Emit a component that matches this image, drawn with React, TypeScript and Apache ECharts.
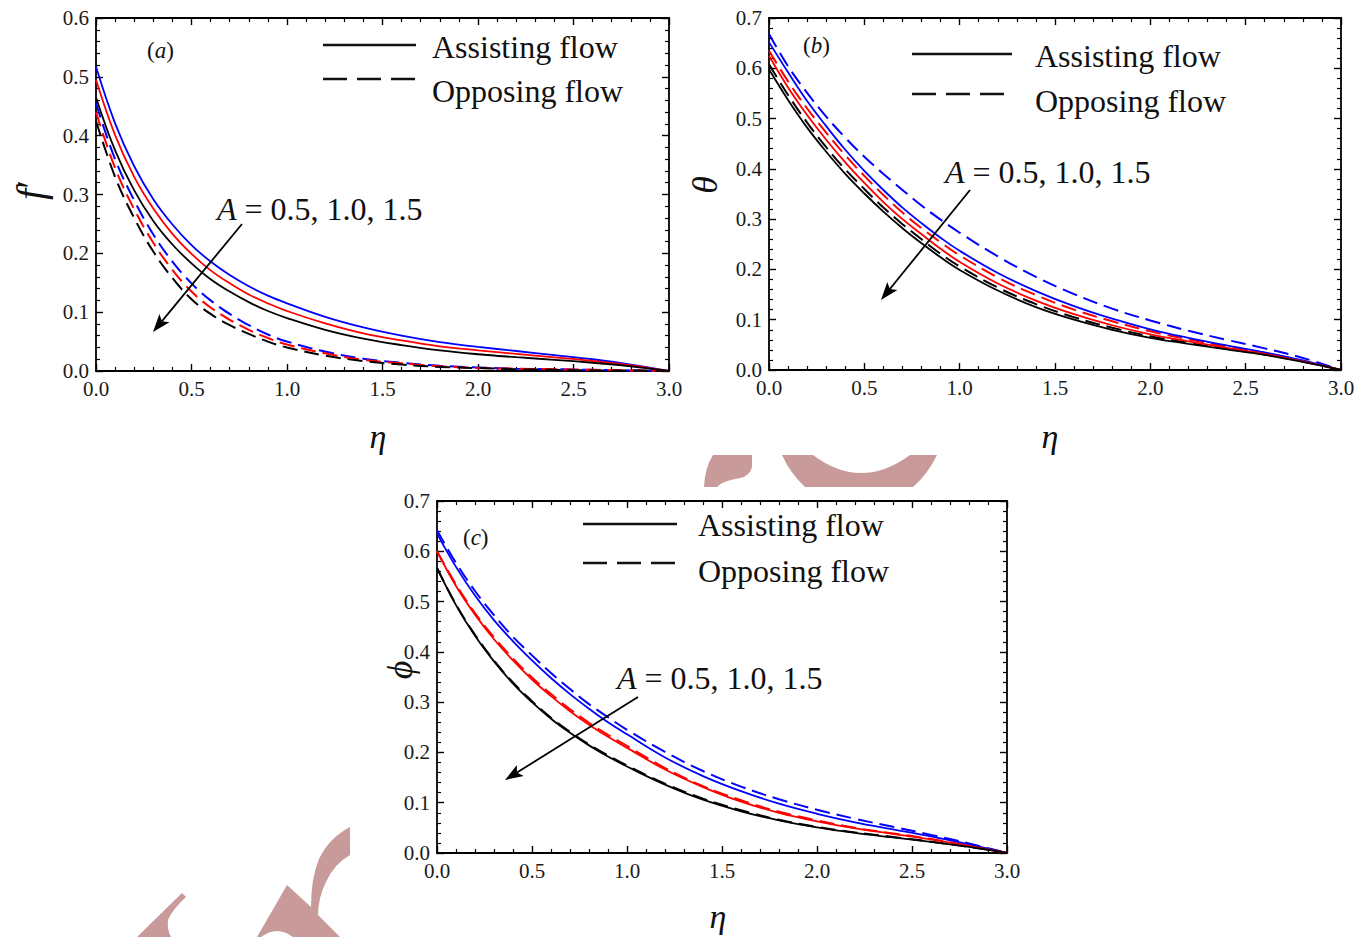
import React, { useEffect, useRef } from "react";
import * as echarts from "echarts";

const FONT = "Liberation Serif";

const eta = [0, 0.1, 0.2, 0.3, 0.4, 0.5, 0.6, 0.7, 0.8, 0.9, 1.0, 1.2, 1.4, 1.6, 1.8, 2.0, 2.2, 2.4, 2.6, 2.8, 3.0];
const xTickLabels = ["0.0", "0.5", "1.0", "1.5", "2.0", "2.5", "3.0"];
const aValues = ["0.5", "1.0", "1.5"];

// Panel (a): f'
const fAssistBlue = [0.517, 0.421, 0.348, 0.292, 0.249, 0.214, 0.186, 0.163, 0.144, 0.128, 0.115, 0.092, 0.074, 0.06, 0.049, 0.041, 0.034, 0.027, 0.02, 0.011, 0];
const fAssistRed = [0.495, 0.401, 0.33, 0.276, 0.233, 0.199, 0.171, 0.149, 0.13, 0.115, 0.102, 0.081, 0.064, 0.052, 0.042, 0.035, 0.029, 0.023, 0.017, 0.0095, 0];
const fAssistBlack = [0.465, 0.375, 0.307, 0.255, 0.215, 0.183, 0.156, 0.135, 0.117, 0.102, 0.09, 0.07, 0.055, 0.044, 0.035, 0.0285, 0.0235, 0.019, 0.014, 0.008, 0];
const fOpposeBlue = [0.455, 0.36, 0.29, 0.232, 0.186, 0.149, 0.12, 0.097, 0.078, 0.062, 0.05, 0.033, 0.021, 0.014, 0.009, 0.006, 0.004, 0.003, 0.002, 0.001, 0];
const fOpposeRed = [0.44, 0.345, 0.275, 0.218, 0.172, 0.135, 0.108, 0.087, 0.07, 0.056, 0.045, 0.03, 0.019, 0.013, 0.008, 0.005, 0.004, 0.003, 0.002, 0.001, 0];
const fOpposeBlack = [0.425, 0.33, 0.26, 0.203, 0.158, 0.122, 0.097, 0.078, 0.063, 0.05, 0.04, 0.026, 0.017, 0.011, 0.007, 0.005, 0.003, 0.002, 0.001, 0.001, 0];

// Panel (b): theta
const tAssistBlue = [0.652, 0.592, 0.535, 0.485, 0.438, 0.396, 0.358, 0.323, 0.292, 0.263, 0.237, 0.193, 0.157, 0.127, 0.102, 0.081, 0.064, 0.049, 0.035, 0.019, 0];
const tAssistRed = [0.625, 0.562, 0.507, 0.458, 0.413, 0.372, 0.334, 0.3, 0.27, 0.241, 0.215, 0.172, 0.138, 0.111, 0.089, 0.071, 0.057, 0.044, 0.032, 0.017, 0];
const tAssistBlack = [0.598, 0.537, 0.482, 0.434, 0.39, 0.351, 0.315, 0.282, 0.252, 0.224, 0.199, 0.158, 0.125, 0.1, 0.08, 0.064, 0.052, 0.041, 0.03, 0.016, 0];
const tOpposeBlue = [0.668, 0.604, 0.551, 0.504, 0.462, 0.424, 0.39, 0.358, 0.327, 0.299, 0.273, 0.226, 0.185, 0.151, 0.122, 0.0985, 0.078, 0.06, 0.043, 0.024, 0];
const tOpposeRed = [0.635, 0.574, 0.52, 0.472, 0.427, 0.386, 0.348, 0.313, 0.282, 0.254, 0.228, 0.184, 0.149, 0.12, 0.097, 0.077, 0.061, 0.047, 0.034, 0.018, 0];
const tOpposeBlack = [0.608, 0.547, 0.492, 0.443, 0.399, 0.36, 0.323, 0.29, 0.26, 0.231, 0.206, 0.164, 0.131, 0.105, 0.084, 0.067, 0.054, 0.042, 0.031, 0.017, 0];

// Panel (c): phi
const pAssistBlue = [0.635, 0.569, 0.512, 0.463, 0.421, 0.383, 0.348, 0.316, 0.287, 0.26, 0.236, 0.19, 0.153, 0.123, 0.098, 0.078, 0.061, 0.047, 0.033, 0.017, 0];
const pAssistRed = [0.6, 0.531, 0.474, 0.425, 0.383, 0.345, 0.312, 0.282, 0.255, 0.231, 0.209, 0.166, 0.131, 0.102, 0.08, 0.063, 0.049, 0.038, 0.027, 0.014, 0];
const pAssistBlack = [0.567, 0.493, 0.432, 0.381, 0.337, 0.3, 0.267, 0.239, 0.214, 0.192, 0.172, 0.136, 0.106, 0.083, 0.065, 0.051, 0.04, 0.031, 0.022, 0.012, 0];
const pOpposeBlue = [0.642, 0.577, 0.521, 0.473, 0.43, 0.393, 0.358, 0.326, 0.296, 0.27, 0.245, 0.201, 0.163, 0.132, 0.107, 0.086, 0.068, 0.052, 0.036, 0.019, 0];
const pOpposeRed = [0.6, 0.534, 0.477, 0.429, 0.387, 0.349, 0.316, 0.286, 0.259, 0.235, 0.213, 0.169, 0.133, 0.105, 0.082, 0.065, 0.05, 0.039, 0.028, 0.0145, 0];
const pOpposeBlack = [0.567, 0.494, 0.434, 0.383, 0.339, 0.302, 0.269, 0.241, 0.216, 0.194, 0.174, 0.138, 0.108, 0.085, 0.066, 0.052, 0.041, 0.032, 0.0225, 0.0122, 0];

const BLUE = "#0000ff";
const RED = "#ff0000";
const BLACK = "#000000";
const WM = "#c99a9a";

const grids = [
  { left: 96, top: 18, width: 573, height: 353 },
  { left: 769, top: 18, width: 572, height: 352 },
  { left: 437, top: 501, width: 570, height: 352 },
];
const yMax = [0.6, 0.7, 0.7];

const panels = [
  { a: [fAssistBlue, fAssistRed, fAssistBlack], o: [fOpposeBlue, fOpposeRed, fOpposeBlack] },
  { a: [tAssistBlue, tAssistRed, tAssistBlack], o: [tOpposeBlue, tOpposeRed, tOpposeBlack] },
  { a: [pAssistBlue, pAssistRed, pAssistBlack], o: [pOpposeBlue, pOpposeRed, pOpposeBlack] },
];

function xAx(gridIndex: number, position: string, showLabel: boolean) {
  return {
    type: "value",
    gridIndex,
    position,
    min: 0,
    max: 3,
    interval: 0.5,
    axisLine: { show: true, onZero: false, lineStyle: { color: "#000", width: 1.8 } },
    axisTick: { show: true, inside: true, length: 7, lineStyle: { color: "#000", width: 1.4 } },
    minorTick: { show: true, splitNumber: 5, length: 4, lineStyle: { color: "#000", width: 1.2 } },
    splitLine: { show: false },
    minorSplitLine: { show: false },
    axisLabel: {
      show: showLabel,
      formatter: (v: number) => xTickLabels[Math.round(v * 2)] ?? v.toFixed(1),
      fontFamily: FONT,
      fontSize: 21,
      color: "#1a1a1a",
      margin: 7,
      showMinLabel: true,
      showMaxLabel: true,
    },
  };
}

function yAx(gridIndex: number, position: string, showLabel: boolean, max: number) {
  return {
    type: "value",
    gridIndex,
    position,
    min: 0,
    max,
    interval: 0.1,
    axisLine: { show: true, onZero: false, lineStyle: { color: "#000", width: 1.8 } },
    axisTick: { show: true, inside: true, length: 7, lineStyle: { color: "#000", width: 1.4 } },
    minorTick: { show: true, splitNumber: 5, length: 4, lineStyle: { color: "#000", width: 1.2 } },
    splitLine: { show: false },
    minorSplitLine: { show: false },
    axisLabel: {
      show: showLabel,
      formatter: (v: number) => v.toFixed(1),
      fontFamily: FONT,
      fontSize: 21,
      color: "#1a1a1a",
      margin: 7,
      showMinLabel: true,
      showMaxLabel: true,
    },
  };
}

function arrow(x1: number, y1: number, x2: number, y2: number) {
  const dx = x2 - x1;
  const dy = y2 - y1;
  const L = Math.sqrt(dx * dx + dy * dy);
  const ux = dx / L;
  const uy = dy / L;
  const hl = 18;
  const hw = 6.5;
  const bx = x2 - ux * hl;
  const by = y2 - uy * hl;
  return [
    { type: "line", shape: { x1, y1, x2: x2 - ux * 8, y2: y2 - uy * 8 }, style: { stroke: "#000", lineWidth: 1.8 }, z: 10 },
    {
      type: "polygon",
      shape: {
        points: [
          [x2, y2],
          [bx - uy * hw, by + ux * hw],
          [bx + ux * 4, by + uy * 4],
          [bx + uy * hw, by - ux * hw],
        ],
      },
      style: { fill: "#000" },
      z: 10,
    },
  ];
}

function txt(x: number, y: number, text: string, size: number, extra: any = {}) {
  return {
    type: "text",
    x,
    y,
    z: 10,
    style: {
      text,
      fontFamily: FONT,
      fontSize: size,
      fill: "#111",
      align: "left",
      verticalAlign: "middle",
      rich: {
        i: { fontFamily: FONT, fontSize: size, fontStyle: "italic", fill: "#111" },
      },
      ...extra,
    },
  };
}

function legend(x1: number, x2: number, ySolid: number, yDash: number, tx: number, tyA: number, tyO: number) {
  return [
    { type: "line", shape: { x1, y1: ySolid, x2, y2: ySolid }, style: { stroke: "#111", lineWidth: 2.6 }, z: 10 },
    { type: "line", shape: { x1, y1: yDash, x2, y2: yDash }, style: { stroke: "#111", lineWidth: 2.6, lineDash: [24, 10] }, z: 10 },
    txt(tx, tyA, "Assisting flow", 32),
    txt(tx, tyO, "Opposing flow", 32),
  ];
}

function wm(name: string) {
  return { type: name, x: 0, y: 0, scaleX: 1, scaleY: 1, style: { fill: WM }, z: 0 };
}

let registered = false;
function registerShapes() {
  if (registered) return;
  registered = true;
  const shapes: [string, string][] = [
    ["wm1", "M713,455 L752,455 L752,467 Q750,476 740,478 Q722,481 717,487 L704,487 Q705,467 713,455 Z"],
    ["wm2", "M782,455 L813,455 Q861,491 910,455 L937,455 Q928,474 913,487 L805,487 Q790,473 782,455 Z"],
    ["wm3", "M137,937 L182,893 L186,897 Q172,910 168,920 Q167,930 171,937 Z"],
    ["wm4", "M257,937 L287,885 L311,907 Q311,878 319,859 Q329,838 350,827 L350,855 Q334,864 326,882 Q318,898 318,915 L340,937 L293,937 Q277,925 261,937 Z"],
  ];
  for (const [n, d] of shapes) {
    echarts.graphic.registerShape(n, (echarts.graphic as any).extendPath(d, {}));
  }
}

export default function App() {
  const ref = useRef<HTMLDivElement>(null);
  useEffect(() => {
    if (!ref.current) return;
    registerShapes();
    const chart = echarts.init(ref.current, null, { renderer: "svg" });

    const xAxis: any[] = [];
    const yAxis: any[] = [];
    grids.forEach((_, g) => {
      xAxis.push(xAx(g, "bottom", true));
      xAxis.push(xAx(g, "top", false));
      yAxis.push(yAx(g, "left", true, yMax[g]));
      yAxis.push(yAx(g, "right", false, yMax[g]));
    });

    const colors = [BLUE, RED, BLACK];
    const series: any[] = [];
    panels.forEach((p, g) => {
      p.o.forEach((vals, k) => {
        series.push({
          type: "line",
          name: `opposing A=${aValues[k]} (${g})`,
          xAxisIndex: g * 2,
          yAxisIndex: g * 2,
          data: eta.map((e, i) => [e, vals[i]]),
          smooth: 0.4,
          symbol: "none",
          lineStyle: { color: colors[k], width: 2, type: [15, 7] },
          z: 3,
        });
      });
      p.a.forEach((vals, k) => {
        series.push({
          type: "line",
          name: `assisting A=${aValues[k]} (${g})`,
          xAxisIndex: g * 2,
          yAxisIndex: g * 2,
          data: eta.map((e, i) => [e, vals[i]]),
          smooth: 0.4,
          symbol: "none",
          lineStyle: { color: colors[k], width: 1.8, type: "solid" },
          z: 4,
        });
      });
    });

    const annot = `{i|A} = ${aValues.join(", ")}`;

    const graphic: any[] = [
      wm("wm1"),
      wm("wm2"),
      wm("wm3"),
      wm("wm4"),
      // panel labels
      txt(147, 50, "({i|a})", 23),
      txt(803, 45, "({i|b})", 23),
      txt(463, 537, "({i|c})", 23),
      // legends
      ...legend(323, 416, 45, 79, 432, 47, 91),
      ...legend(912, 1012, 54, 94, 1035, 56, 101),
      ...legend(583, 677, 524, 563, 698, 525, 571),
      // annotations
      txt(217, 209, annot, 32),
      txt(945, 172, annot, 32),
      txt(617, 678, annot, 32),
      ...arrow(242, 224, 153, 332),
      ...arrow(970, 190, 881, 300),
      ...arrow(638, 697, 505, 780),
      // axis names
      txt(378, 436, "{i|η}", 34, { align: "center" }),
      txt(1050, 436, "{i|η}", 34, { align: "center" }),
      txt(718, 916, "{i|η}", 34, { align: "center" }),
      { ...txt(30, 190, "{i|f}′", 40, { align: "center" }), rotation: Math.PI / 2 },
      { ...txt(705, 185, "{i|θ}", 36, { align: "center" }), rotation: Math.PI / 2 },
      { ...txt(400, 670, "{i|ϕ}", 36, { align: "center" }), rotation: Math.PI / 2 },
    ];

    chart.setOption({
      animation: false,
      backgroundColor: "#ffffff",
      grid: grids.map((g) => ({ ...g, containLabel: false })),
      xAxis,
      yAxis,
      series,
      graphic,
    });
    return () => chart.dispose();
  }, []);
  return <div ref={ref} style={{ position: "absolute", left: 0, top: 0, width: 1372, height: 937 }} />;
}
